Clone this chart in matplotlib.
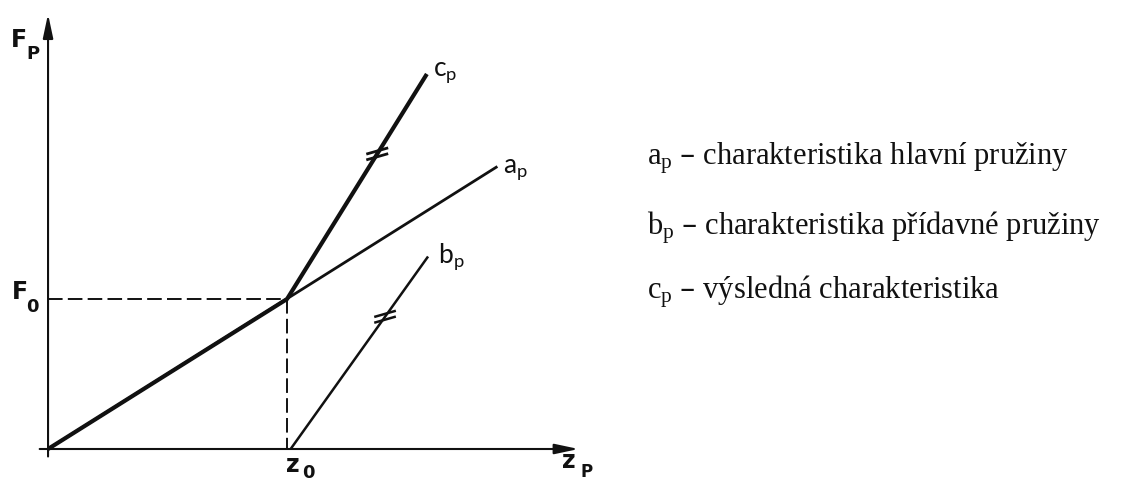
import matplotlib
matplotlib.use("Agg")
import matplotlib.pyplot as plt
from matplotlib.lines import Line2D
from matplotlib.patches import ArrowStyle
import numpy as np

# ---- spring characteristics (deflection z, force F) ----
z0 = 10.0
F0 = 6.0

ap_z = [0.0, 18.8]            # main spring
ap_F = [0.0, 11.3]
bp_z = [10.15, 15.9]          # additional spring (engages at z0)
bp_F = [0.0, 7.7]
cp_z = [0.0, z0, 15.85]       # resulting characteristic
cp_F = [0.0, F0, 15.0]

axis_z_end = 22.2
axis_F_end = 17.4

legend_lines = [
    ("a", "charakteristika hlavní pružiny"),
    ("b", "charakteristika přídavné pružiny"),
    ("c", "výsledná charakteristika"),
]

W, H = 1125, 481
fig = plt.figure(figsize=(W / 100, H / 100), dpi=100)
ax = fig.add_axes([0, 0, 1, 1])
ax.set_xlim(-2.01, 45.06)
ax.set_ylim(-1.24, 18.0)
ax.axis("off")

ink = "#111111"

# axes with arrow heads
arrow = ArrowStyle("-|>", head_length=0.4, head_width=0.085)
ax.annotate("", xy=(axis_z_end, 0), xytext=(-0.35, 0),
            arrowprops=dict(arrowstyle=arrow, mutation_scale=36, lw=1.5,
                            color=ink, shrinkA=0, shrinkB=0))
ax.annotate("", xy=(0, axis_F_end), xytext=(0, -0.3),
            arrowprops=dict(arrowstyle=arrow, mutation_scale=36, lw=1.5,
                            color=ink, shrinkA=0, shrinkB=0))

# guide lines to the engagement point
ax.plot([0, z0], [F0, F0], color=ink, lw=1.4, dashes=(7.5, 2.7))
ax.plot([z0, z0], [F0, 0], color=ink, lw=1.4, dashes=(7.5, 2.7))

# characteristics
ax.plot(ap_z, ap_F, color=ink, lw=2.0, solid_capstyle="butt")
ax.plot(bp_z, bp_F, color=ink, lw=1.8, solid_capstyle="butt")
ax.plot(cp_z, cp_F, color=ink, lw=3.0, solid_joinstyle="miter",
        solid_capstyle="butt")


def parallel_mark(zs, Fs, frac, lw):
    """Two short strokes across a line segment, drawn in pixel space."""
    p0 = ax.transData.transform((zs[-2], Fs[-2]))
    p1 = ax.transData.transform((zs[-1], Fs[-1]))
    c = p0 + frac * (p1 - p0)
    d = np.array([np.cos(np.radians(16)), np.sin(np.radians(16))]) * 10
    for dy in (2.9, -2.9):
        cc = c + np.array([0, dy])
        ax.add_line(Line2D([cc[0] - d[0], cc[0] + d[0]],
                           [cc[1] - d[1], cc[1] + d[1]],
                           transform=None, color=ink, lw=lw))


fig.canvas.draw()
parallel_mark(cp_z, cp_F, 0.645, 2.0)
parallel_mark(bp_z, bp_F, 0.687, 1.8)


def put(text, xp, yp, size, family="DejaVu Sans", **kw):
    fig.text(xp / W, 1 - yp / H, text, fontsize=size, family=family,
             va="baseline", ha="left", color=ink, **kw)


# axis symbols
sym = dict(weight="bold")
put("F", 11, 47, 17, **sym)
put("P", 26, 59, 13, **sym)
put("F", 12, 299, 17, **sym)
put("0", 26, 312, 13, **sym)
put("z", 286, 472, 17, **sym)
put("0", 302, 478, 13, **sym)
put("z", 562, 468, 17, **sym)
put("P", 580, 477, 12, **sym)

# line labels
lab = dict(textcoords="offset points", va="baseline", ha="left",
           fontsize=19, family="Lato", color=ink)
ax.annotate(r"$\mathregular{c_p}$", xy=(cp_z[-1], cp_F[-1]),
            xytext=(4.3, -0.8), **lab)
ax.annotate(r"$\mathregular{a_p}$", xy=(ap_z[-1], ap_F[-1]),
            xytext=(4.3, -3.6), **lab)
ax.annotate(r"$\mathregular{b_p}$", xy=(bp_z[-1], bp_F[-1]),
            xytext=(7.2, -3.6), **lab)

# explanation of the curves
baselines = [165, 235, 298]
for (s, desc), yb in zip(legend_lines, baselines):
    put(r"$\mathregular{%s_p}$ – %s" % (s, desc), 647, yb, 22,
        family="Liberation Serif")

fig.savefig("out.png", dpi=100)
